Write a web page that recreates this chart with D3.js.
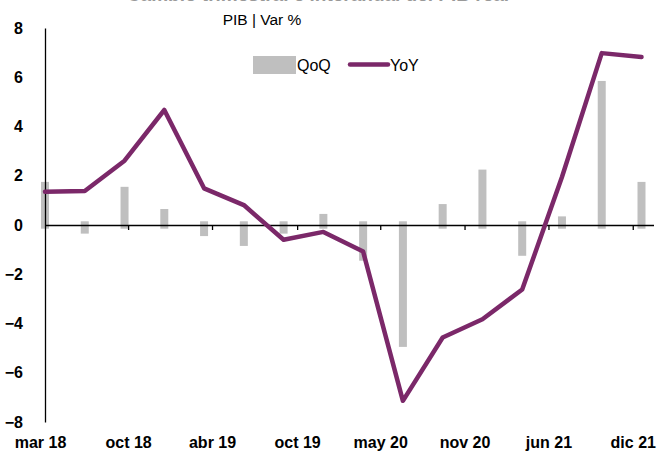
<!DOCTYPE html>
<html lang="es">
<head>
<meta charset="utf-8">
<script src="https://d3js.org/d3.v7.min.js"></script>
<style>
  body { margin: 0; background: #fff; }
  svg { display: block; font-family: "Liberation Sans", Arial, sans-serif; }
</style>
</head>
<body>
<div id="chart"></div>
<script>
// quarterly data, mar 18 .. dic 21
const quarters = ["mar 18","jun 18","sep 18","dic 18","mar 19","jun 19","sep 19","dic 19",
                  "mar 20","jun 20","sep 20","dic 20","mar 21","jun 21","sep 21","dic 21"];
const qoq = [1.75, -0.35, 1.55, 0.65, -0.45, -0.85, -0.35, 0.45,
             -1.45, -4.95, 0.85, 2.25, -1.25, 0.35, 5.85, 1.75];
const yoy = [1.35, 1.38, 2.61, 4.67, 1.49, 0.81, -0.6, -0.28,
             -1.08, -7.14, -4.57, -3.83, -2.62, 1.95, 6.98, 6.82];
// x-axis labels sit on their own spacing (date axis in the original)
const tickLabels = ["mar 18","oct 18","abr 19","oct 19","may 20","nov 20","jun 21","dic 21"];
const tickPos = [0, 2.09, 4.2, 6.34, 8.43, 10.55, 12.66, 14.78];
const yTicks = [-8, -6, -4, -2, 0, 2, 4, 6, 8];

const w = 671, h = 457;
const purple = "#7b2869", grey = "#bfbfbf";

const svg = d3.select("#chart").append("svg").attr("width", w).attr("height", h);

const x = d3.scaleLinear().domain([0, quarters.length - 1]).range([45, 641.5]);
const y = d3.scaleLinear().domain([-8, 8]).range([422, 28]);

// title, cut off by the top edge as in the original picture
svg.append("text")
   .attr("x", 318).attr("y", 1)
   .attr("text-anchor", "middle")
   .attr("font-size", 19).attr("font-weight", "bold").attr("fill", "#999")
   .text("Cambio trimestral e interanual del PIB real");

svg.append("text")
   .attr("x", 262).attr("y", 25)
   .attr("text-anchor", "middle")
   .attr("font-size", 15.5).attr("fill", "#000")
   .text("PIB | Var %");

// bars (excel draws them from a little past zero)
const off = 0.15;
svg.append("g").selectAll("rect")
   .data(qoq)
   .join("rect")
   .attr("x", (d, i) => x(i) - 4)
   .attr("width", 8)
   .attr("y", d => d >= 0 ? y(d) : y(off))
   .attr("height", d => d >= 0 ? y(-off) - y(d) : y(d) - y(off))
   .attr("fill", grey);

// y axis
const yAxis = svg.append("g")
   .attr("transform", "translate(45,0)")
   .call(d3.axisLeft(y).tickValues(yTicks).tickSize(0).tickPadding(22).tickFormat(d3.format("d")));
yAxis.select(".domain").attr("stroke", "#000").attr("stroke-width", 1.3);
yAxis.selectAll("text").attr("font-size", 16).attr("font-weight", "bold").attr("fill", "#000")
     .attr("font-family", "Liberation Sans, Arial, sans-serif");

// zero line with ticks
const zAxis = svg.append("g")
   .attr("transform", `translate(0,${y(0)})`)
   .call(d3.axisBottom(x).tickValues(tickPos.slice(1)).tickSize(5).tickFormat(""));
zAxis.select(".domain").attr("d", `M${x(0)},0.5H654`).attr("stroke", "#000").attr("stroke-width", 1.3);
zAxis.selectAll(".tick line").attr("stroke", "#000").attr("stroke-width", 1.3);

// bottom labels
const lAxis = svg.append("g")
   .attr("transform", "translate(0,437)")
   .call(d3.axisBottom(x).tickValues(tickPos).tickSize(0).tickPadding(0)
          .tickFormat((d, i) => tickLabels[i]));
lAxis.select(".domain").remove();
lAxis.selectAll("text").attr("font-size", 16).attr("font-weight", "bold").attr("fill", "#000")
     .attr("font-family", "Liberation Sans, Arial, sans-serif")
     .attr("dx", (d, i) => i === 0 ? -5 : 0);

// YoY line
svg.append("path")
   .datum(yoy)
   .attr("d", d3.line().x((d, i) => x(i)).y(d => y(d)))
   .attr("fill", "none")
   .attr("stroke", purple)
   .attr("stroke-width", 4.5)
   .attr("stroke-linejoin", "round")
   .attr("stroke-linecap", "round");

// legend
const lg = svg.append("g");
lg.append("rect").attr("x", 253).attr("y", 56).attr("width", 43).attr("height", 18).attr("fill", grey);
lg.append("text").attr("x", 297).attr("y", 71).attr("font-size", 16).attr("fill", "#000").text("QoQ");
lg.append("line").attr("x1", 350).attr("x2", 388).attr("y1", 64.5).attr("y2", 64.5)
  .attr("stroke", purple).attr("stroke-width", 4.5).attr("stroke-linecap", "round");
lg.append("text").attr("x", 390).attr("y", 71).attr("font-size", 16).attr("fill", "#000").text("YoY");
</script>
</body>
</html>
